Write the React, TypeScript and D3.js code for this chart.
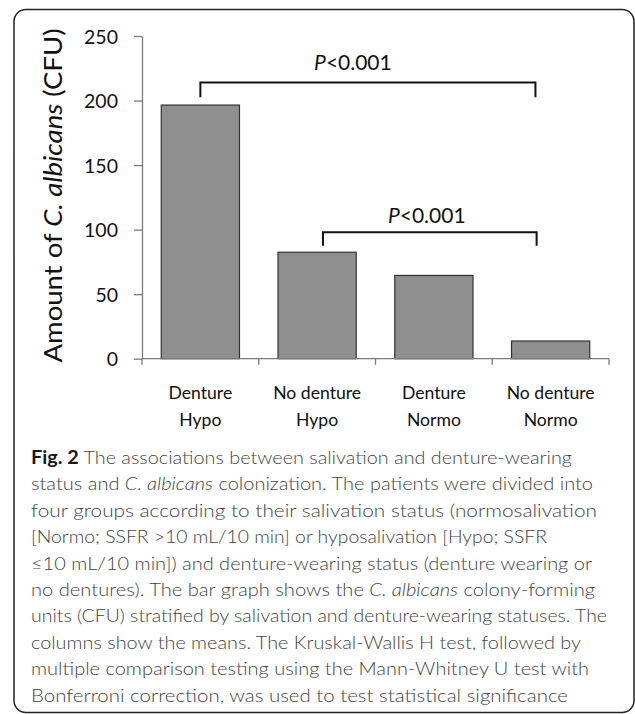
import React, { useRef, useEffect } from "react";
import * as d3 from "d3";

// chart data
const categories = ["Denture Hypo", "No denture Hypo", "Denture Normo", "No denture Normo"];
const categoryLines = [
    ["Denture", "Hypo"],
    ["No denture", "Hypo"],
    ["Denture", "Normo"],
    ["No denture", "Normo"],
];
const meanCFU = [196.5, 82.5, 64.5, 13.7];
const yTicks = [0, 50, 100, 150, 200, 250];

// significance brackets: from/to category, level of the bar, level of the drop
const brackets = [
    { from: 0, to: 3, fromFrac: 0.5, toFrac: 0.37, top: 214, drop: 202.5, label: "0.001", labelValue: 223.5, labelShift: -15 },
    { from: 1, to: 3, fromFrac: 0.55, toFrac: 0.38, top: 98, drop: 87.5, label: "0.001", labelValue: 105, labelShift: -3 },
];

const captionLines: { text: string; style?: "bold" | "italic" }[][] = [
    [{ text: "Fig. 2", style: "bold" }, { text: " The associations between salivation and denture-wearing" }],
    [{ text: "status and " }, { text: "C. albicans", style: "italic" }, { text: " colonization. The patients were divided into" }],
    [{ text: "four groups according to their salivation status (normosalivation" }],
    [{ text: "[Normo; SSFR >10 mL/10 min] or hyposalivation [Hypo; SSFR" }],
    [{ text: "\u226410 mL/10 min]) and denture-wearing status (denture wearing or" }],
    [{ text: "no dentures). The bar graph shows the " }, { text: "C. albicans", style: "italic" }, { text: " colony-forming" }],
    [{ text: "units (CFU) stratified by salivation and denture-wearing statuses. The" }],
    [{ text: "columns show the means. The Kruskal-Wallis H test, followed by" }],
    [{ text: "multiple comparison testing using the Mann-Whitney U test with" }],
    [{ text: "Bonferroni correction, was used to test statistical significance" }],
];
const captionLineEnds = [572, 593, 597, 547, 592, 595, 607, 581, 589, 568];

export default function App() {
    const svgRef = useRef<SVGSVGElement | null>(null);

    useEffect(() => {
        if (!svgRef.current) return;
        const width = 635;
        const height = 714;
        const font = "Lato, 'Open Sans', sans-serif";

        const svg = d3.select(svgRef.current);
        svg.selectAll("*").remove();

        svg.append("rect")
            .attr("width", width)
            .attr("height", height)
            .attr("fill", "#fff");

        // outer frame
        svg.append("rect")
            .attr("x", 14)
            .attr("y", 9.5)
            .attr("width", 620)
            .attr("height", 703)
            .attr("rx", 12)
            .attr("fill", "none")
            .attr("stroke", "#222")
            .attr("stroke-width", 1.5);

        const x = d3
            .scaleBand<string>()
            .domain(categories)
            .range([142, 609])
            .paddingInner(0.33)
            .paddingOuter(0.165);

        const y = d3.scaleLinear().domain([0, 250]).range([358.7, 36]);

        // bars
        svg.append("g")
            .selectAll("rect")
            .data(meanCFU)
            .join("rect")
            .attr("x", (_d, i) => x(categories[i])!)
            .attr("y", (d) => y(d))
            .attr("width", x.bandwidth())
            .attr("height", (d) => y(0) - y(d))
            .attr("fill", "#8f8f8f")
            .attr("stroke", "#333")
            .attr("stroke-width", 1.2);

        // y axis
        const yAxis = svg
            .append("g")
            .attr("transform", "translate(142,0)")
            .call(d3.axisLeft(y).tickValues(yTicks).tickSize(8).tickSizeOuter(0).tickPadding(16));
        yAxis.select(".domain").attr("stroke", "#7a7a7a").attr("stroke-width", 1.3);
        yAxis.selectAll(".tick line").attr("stroke", "#7a7a7a").attr("stroke-width", 1.3);
        yAxis.selectAll(".tick text")
            .attr("font-family", font)
            .attr("font-size", 19.5)
            .attr("fill", "#111")
            .attr("dy", "0.36em");

        // x axis: line and boundary ticks
        const step = x.step();
        const start = x(categories[0])! - (step * x.paddingInner()) / 2;
        const bounds = d3.range(categories.length + 1).map((i) => start + i * step);
        const xAxis = svg.append("g").attr("transform", `translate(0,${y(0)})`);
        xAxis.append("line")
            .attr("x1", bounds[0])
            .attr("x2", bounds[bounds.length - 1])
            .attr("stroke", "#7a7a7a")
            .attr("stroke-width", 1.3);
        xAxis.selectAll("line.tk")
            .data(bounds)
            .join("line")
            .attr("class", "tk")
            .attr("x1", (d) => d)
            .attr("x2", (d) => d)
            .attr("y1", 0)
            .attr("y2", 6)
            .attr("stroke", "#7a7a7a")
            .attr("stroke-width", 1.3);

        // category labels
        const catText = svg.append("g")
            .selectAll("text")
            .data(categoryLines)
            .join("text")
            .attr("x", (_d, i) => x(categories[i])! + x.bandwidth() / 2)
            .attr("y", y(0) + 40.5)
            .attr("text-anchor", "middle")
            .attr("font-family", font)
            .attr("font-size", 17.6)
            .attr("fill", "#111");
        catText.selectAll("tspan")
            .data((d) => d)
            .join("tspan")
            .attr("x", function () {
                return (this.parentNode as SVGTextElement).getAttribute("x");
            })
            .attr("dy", (_d, i) => (i === 0 ? 0 : 26.5))
            .text((d) => d);

        // y title
        const title = svg.append("text")
            .attr("transform", `translate(62,${195.5}) rotate(-90)`)
            .attr("text-anchor", "middle")
            .attr("font-family", font)
            .attr("font-size", 25.5)
            .attr("fill", "#111")
            .attr("textLength", 334)
            .attr("lengthAdjust", "spacingAndGlyphs");
        title.append("tspan").text("Amount of ");
        title.append("tspan").attr("font-style", "italic").text("C. albicans");
        title.append("tspan").text(" (CFU)");

        // significance brackets
        brackets.forEach((b) => {
            const x1 = x(categories[b.from])! + b.fromFrac * step - (step * x.paddingInner()) / 2;
            const x2 = x(categories[b.to])! + b.toFrac * step - (step * x.paddingInner()) / 2;
            svg.append("path")
                .attr("d", `M${x1},${y(b.drop)}V${y(b.top)}H${x2}V${y(b.drop)}`)
                .attr("fill", "none")
                .attr("stroke", "#111")
                .attr("stroke-width", 2);
            const t = svg.append("text")
                .attr("x", (x1 + x2) / 2 + b.labelShift)
                .attr("y", y(b.labelValue))
                .attr("text-anchor", "middle")
                .attr("font-family", font)
                .attr("font-size", 21)
                .attr("fill", "#111");
            t.append("tspan").attr("font-style", "italic").text("P");
            t.append("tspan").text("<" + b.label);
        });

        // caption
        const cap = svg.append("g");
        captionLines.forEach((line, i) => {
            const t = cap.append("text")
                .attr("x", 31)
                .attr("y", 464 + i * 26.4)
                .attr("font-family", font)
                .attr("font-size", 18)
                .attr("font-weight", 300)
                .attr("fill", "#444")
                .attr("textLength", captionLineEnds[i] - 31)
                .attr("lengthAdjust", "spacingAndGlyphs");
            line.forEach((seg) => {
                const s = t.append("tspan").text(seg.text);
                if (seg.style === "bold") s.attr("font-weight", "bold").attr("fill", "#1a1a1a");
                if (seg.style === "italic") s.attr("font-style", "italic");
            });
        });
    }, []);

    return (
        <svg
            ref={svgRef}
            width={635}
            height={714}
            style={{ position: "absolute", left: 0, top: 0, display: "block" }}
        ></svg>
    );
}
